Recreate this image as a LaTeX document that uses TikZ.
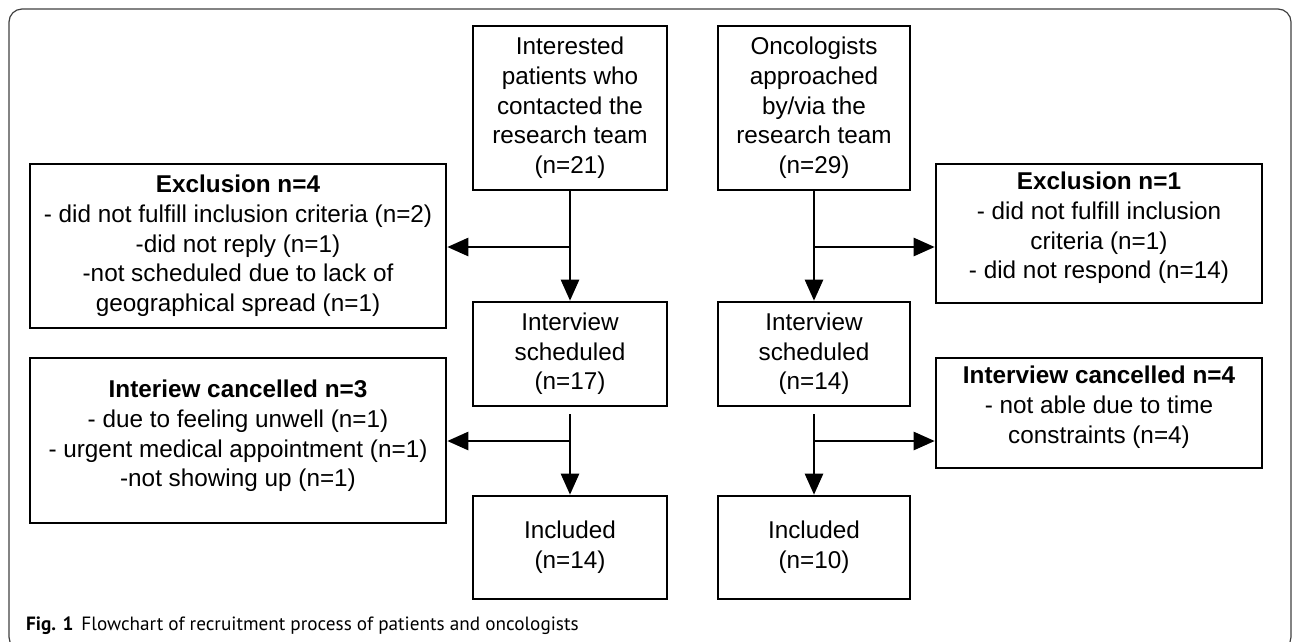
\documentclass[tikz,border=0pt]{standalone}
\usepackage{fontspec}
\setmainfont{Liberation Sans}
\newfontfamily\capfont{PT Sans}
\usetikzlibrary{arrows.meta}
\begin{document}
\begin{tikzpicture}[x=1pt,y=-1pt,
  box/.style={draw, line width=2.6pt, align=center, inner sep=0pt, font=\fontsize{24.3}{29.7}\selectfont},
  conn/.style={line width=2.6pt, -{Triangle[length=21pt,width=18pt]}}]
\useasboundingbox (0,0) rectangle (1292,641);
\draw[black!75, line width=1.2pt, rounded corners=13pt] (9,9) rectangle (1291,650);

% patients column
\node[box, minimum width=194pt, minimum height=164pt] (pt) at (570,108) {Interested\\patients who\\contacted the\\research team\\(n=21)};
\node[box, minimum width=194pt, minimum height=104pt] (ps) at (570,354) {Interview\\scheduled\\(n=17)};
\node[box, minimum width=194pt, minimum height=103pt] (pi) at (570,547.5) {Included\\(n=14)};
\node[box, minimum width=416pt, minimum height=164pt] (ex4) at (238,246) {\textbf{Exclusion n=4}\\- did not fulfill inclusion criteria (n=2)\\-did not reply (n=1)\\-not scheduled due to lack of\\geographical spread (n=1)};
\node[box, minimum width=416pt, minimum height=165pt] (ca3) at (238,440.5) {};
\node[align=center, inner sep=0pt, font=\fontsize{24.3}{29.7}\selectfont] (ca3t) at (238,436) {\textbf{Interiew cancelled n=3}\\- due to feeling unwell (n=1)\\- urgent medical appointment (n=1)\\-not showing up (n=1)};

% oncologists column
\node[box, minimum width=192pt, minimum height=164pt] (ot) at (814,108) {Oncologists\\approached\\by/via the\\research team\\(n=29)};
\node[box, minimum width=192pt, minimum height=104pt] (os) at (814,354) {Interview\\scheduled\\(n=14)};
\node[box, minimum width=192pt, minimum height=103pt] (oi) at (814,547.5) {Included\\(n=10)};
\node[box, minimum width=326pt, minimum height=139pt] (ex1) at (1099,233.5) {};
\node[align=center, inner sep=0pt, font=\fontsize{24.3}{29.7}\selectfont] (ex1t) at (1099,228) {\textbf{Exclusion n=1}\\- did not fulfill inclusion\\criteria (n=1)\\- did not respond (n=14)};
\node[box, minimum width=326pt, minimum height=110pt] (ca4) at (1099,413) {};
\node[align=center, inner sep=0pt, font=\fontsize{24.3}{29.7}\selectfont] (ca4t) at (1099,407) {\textbf{Interview cancelled n=4}\\- not able due to time\\constraints (n=4)};

% connectors
\coordinate (b1) at (570,247);
\coordinate (b2) at (570,441);
\coordinate (b3) at (814,247);
\coordinate (b4) at (814,441);
\draw[conn] (pt) -- (ps);
\draw[conn] (b1) -- (b1 -| ex4.east);
\draw[conn] ([yshift=-7pt]ps.south) -- (pi.north);
\draw[conn] (b2) -- (b2 -| ca3.east);
\draw[conn] (ot) -- (os);
\draw[conn] (b3) -- (b3 -| ex1.west);
\draw[conn] ([yshift=-7pt]os.south) -- (oi.north);
\draw[conn] (b4) -- (b4 -| ca4.west);

% caption
\node[anchor=base west, inner sep=0pt, font=\capfont\fontsize{19.2}{23}\selectfont] (cap) at (26,630) {\textbf{Fig. 1}\hspace{8pt}Flowchart of recruitment process of patients and oncologists};
\end{tikzpicture}
\end{document}
